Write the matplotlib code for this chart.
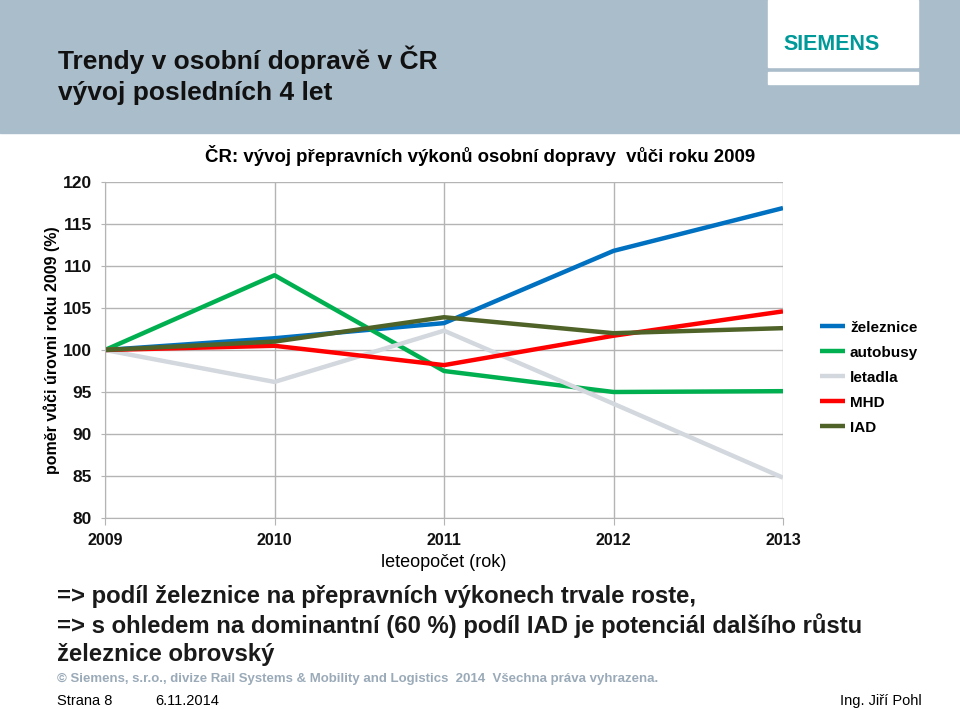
import matplotlib
matplotlib.use('Agg')
import matplotlib.pyplot as plt
from matplotlib.patches import Rectangle

years = [2009, 2010, 2011, 2012, 2013]
zeleznice = [100, 101.4, 103.2, 111.8, 116.9]
autobusy = [100, 108.9, 97.5, 95.0, 95.1]
letadla = [100, 96.2, 102.3, 93.6, 84.8]
mhd = [100, 100.5, 98.2, 101.7, 104.6]
iad = [100, 101.0, 103.9, 102.0, 102.6]
series_names = ['železnice', 'autobusy', 'letadla', 'MHD', 'IAD']
series_colors = ['#0070c0', '#00b050', '#d3d8de', '#ff0000', '#4f6228']
yticks = [80, 85, 90, 95, 100, 105, 110, 115, 120]

plt.rcParams['font.family'] = ['Liberation Sans', 'DejaVu Sans']

fig = plt.figure(figsize=(9.6, 7.09), dpi=100)
W, H = 960, 709

def fx(x):
    return x / W

def fy(y):
    return 1 - y / H

# header band and logo
fig.patches.append(Rectangle((0, fy(133)), 1, 133 / H, transform=fig.transFigure,
                             color='#aabdca', zorder=0))
fig.patches.append(Rectangle((fx(768), fy(67)), 150 / W, 67 / H, transform=fig.transFigure,
                             color='white', zorder=1))
fig.patches.append(Rectangle((fx(768), fy(84)), 150 / W, 12 / H, transform=fig.transFigure,
                             color='white', zorder=1))
fig.text(fx(832), fy(44), 'SIEMENS', ha='center', va='center', fontsize=15.5,
         fontweight='bold', color='#009999', zorder=2)
fig.text(fx(58), fy(60), 'Trendy v osobní dopravě v ČR', ha='left', va='center',
         fontsize=19, fontweight='bold', color='#111111')
fig.text(fx(58), fy(93), 'vývoj posledních 4 let', ha='left', va='center',
         fontsize=19, fontweight='bold', color='#111111')

# chart
ax = fig.add_axes([fx(105), fy(518), 678 / W, 336 / H])
data = [zeleznice, autobusy, letadla, mhd, iad]
for vals, name, col in zip(data, series_names, series_colors):
    ax.plot(years, vals, color=col, lw=3.2, label=name, solid_capstyle='butt')

ax.set_xlim(2009, 2013)
ax.set_ylim(80, 120)
ax.set_xticks(years)
ax.set_yticks(yticks)
ax.grid(True, color='#b4b4b4', lw=1)
ax.set_axisbelow(True)
for s in ['top', 'right']:
    ax.spines[s].set_visible(False)
for s in ['left', 'bottom']:
    ax.spines[s].set_color('#b4b4b4')
ax.tick_params(axis='y', colors='#b4b4b4', labelcolor='#111111', length=3, pad=6.5)
ax.tick_params(axis='x', colors='#b4b4b4', labelcolor='#111111', length=5, pad=6)
for lab in ax.get_yticklabels():
    lab.set_fontsize(12.5)
    lab.set_fontweight('bold')
for lab in ax.get_xticklabels():
    lab.set_fontsize(11.5)
    lab.set_fontweight('bold')

ax.set_xlabel('leteopočet (rok)', fontsize=13, labelpad=4)
fig.text(fx(52), fy(350), 'poměr vůči úrovni roku 2009 (%)', rotation=90, ha='center',
         va='center', fontsize=11.5, fontweight='bold')
fig.text(fx(480), fy(155), 'ČR: vývoj přepravních výkonů osobní dopravy  vůči roku 2009',
         ha='center', va='center', fontsize=13.4, fontweight='bold')

leg = ax.legend(loc='upper left', bbox_to_anchor=(fx(806), fy(307)), bbox_transform=fig.transFigure,
                frameon=False, handlelength=1.65, handletextpad=0.33, labelspacing=0.72,
                prop={'size': 11, 'weight': 'bold'})

# bottom text
body = ['=> podíl železnice na přepravních výkonech trvale roste,',
        '=> s ohledem na dominantní (60 %) podíl IAD je potenciál dalšího růstu',
        'železnice obrovský']
for i, t in enumerate(body):
    fig.text(fx(57), fy(597 + 29 * i), t, ha='left', va='center', fontsize=17.2,
             fontweight='bold', color='#1a1a1a')

fig.text(fx(57), fy(679), '© Siemens, s.r.o., divize Rail Systems & Mobility and Logistics  2014  Všechna práva vyhrazena.',
         ha='left', va='center', fontsize=9.5, fontweight='bold', color='#9aaab8')
fig.text(fx(57), fy(701), 'Strana 8', ha='left', va='center', fontsize=10.5)
fig.text(fx(155), fy(701), '6.11.2014', ha='left', va='center', fontsize=10.5)
fig.text(fx(922), fy(701), 'Ing. Jiří Pohl', ha='right', va='center', fontsize=10.5)

fig.savefig('out.png', dpi=100)
